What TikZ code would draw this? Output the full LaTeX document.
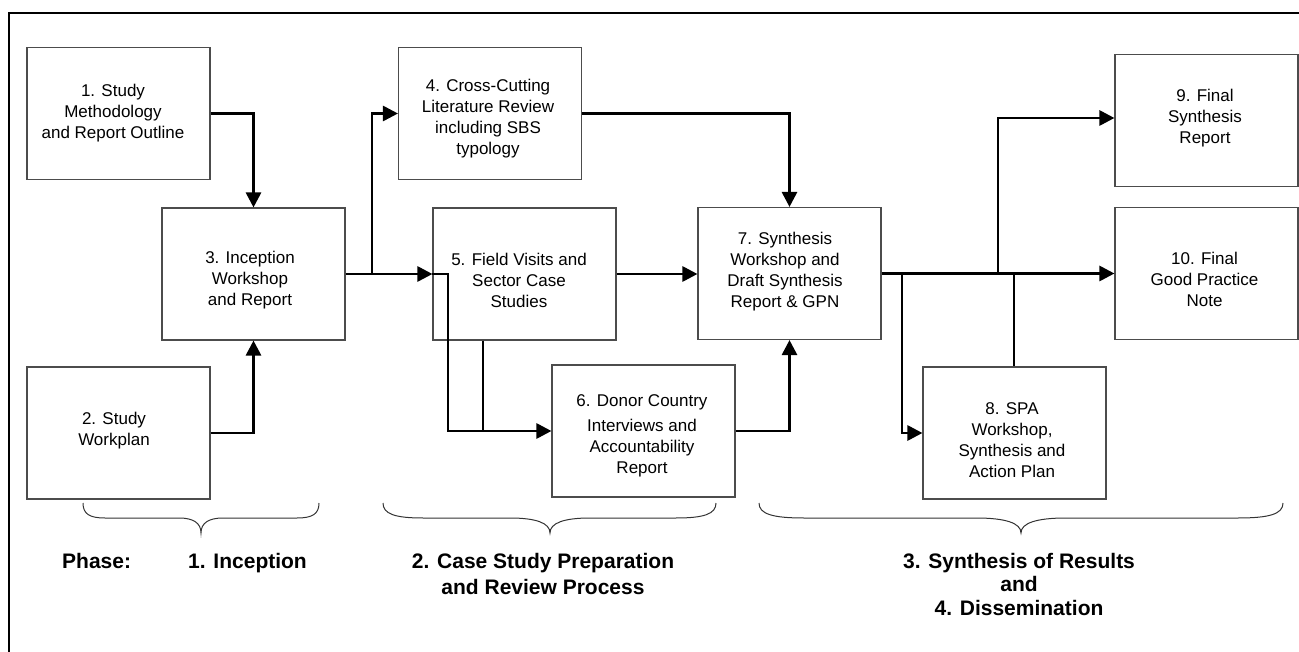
\documentclass[tikz,border=0pt]{standalone}
\usepackage{fontspec}
\setmainfont{Liberation Sans}
\usetikzlibrary{arrows.meta}
\newcommand\phbrace[4]{%
  \draw[brace] (#1,503) .. controls (#1,514) and ({#1+0.3*#4},518) .. ({#1+#4},518)
    -- ({#2-#4},518) .. controls ({#2-0.35*#4},518) and (#2,523) .. (#2,533)
    .. controls (#2,523) and ({#2+0.35*#4},518) .. ({#2+#4},518)
    -- ({#3-#4},518) .. controls ({#3-0.3*#4},518) and (#3,514) .. (#3,503);}
\begin{document}
\begin{tikzpicture}[x=1pt,y=-1pt,
  box/.style={draw=black!70, line width=1.1pt, fill=white, minimum width=183pt, minimum height=132pt, inner sep=0pt},
  txt/.style={align=center, font=\fontsize{17}{21}\selectfont, inner sep=0pt},
  conn/.style={line width=2.8pt, line join=miter},
  thinconn/.style={line width=1.8pt},
  arr/.style={-{Triangle[length=15pt,width=15pt]}},
  phase/.style={font=\fontsize{21}{25}\selectfont\bfseries, align=center, inner sep=0pt},
  brace/.style={draw=black!80, line width=1pt}]
\useasboundingbox (0,0) rectangle (1299,652);
% frame
\draw[line width=2.5pt, line join=miter] (9,652) -- (9,13) -- (1299,13);
% boxes
\node[box] (b1) at (118.5,113.5) {};
\node[box] (b2) at (118.5,433) {};
\node[box] (b3) at (253.5,274) {};
\node[box] (b4) at (490,113.5) {};
\node[box] (b5) at (524.5,274) {};
\node[box] (b6) at (643.5,431) {};
\node[box] (b7) at (789.5,273.5) {};
\node[box] (b8) at (1014.5,433) {};
\node[box] (b9) at (1206.5,120.5) {};
\node[box] (b10) at (1206.5,273.5) {};
% texts
\node[txt] (t1) at (113,113) {1. Study\\Methodology\\and Report Outline};
\node[txt] (t2) at (114,430.5) {2. Study\\Workplan};
\node[txt] (t3) at (250,280.5) {3. Inception\\Workshop\\and Report};
\node[txt] (t4) at (488,119) {4. Cross-Cutting\\Literature Review\\including SBS\\typology};
\node[txt] (t5) at (519,280.5) {5. Field Visits and\\Sector Case\\Studies};
\node[txt] (t6) at (642,435.5) {6. Donor Country\\[4pt]Interviews and\\Accountability\\Report};
\node[txt] (t7) at (785,271.5) {7. Synthesis\\Workshop and\\Draft Synthesis\\Report \& GPN};
\node[txt] (t8) at (1012,440) {8. SPA\\Workshop,\\Synthesis and\\Action Plan};
\node[txt] (t9) at (1205,118) {9. Final\\Synthesis\\Report};
\node[txt] (t10) at (1204.5,279.5) {10. Final\\Good Practice\\Note};
% junctions
\coordinate (j1) at (372,274);
\coordinate (j2) at (448,274);
\coordinate (j3) at (483,431);
\coordinate (j4) at (998,273.5);
\coordinate (j5) at (902,273.5);
\coordinate (j6) at (1014,273.5);
% connectors
\draw[conn,arr] (b1.east) -| (b3.north);
\draw[conn,arr] (b2.east) -| (b3.south);
\draw[conn,arr] (b3.east) -- (b5.west);
\draw[conn,arr] (j1) |- (b4.west);
\draw[conn,arr] (b5.west) -- (j2) |- (b6.west);
\draw[thinconn] (j3 |- b5.south) -- (j3);
\draw[conn,arr] (b4.east) -| (b7.north);
\draw[conn,arr] (b5.east) -- (b5.east -| b7.west);
\draw[conn,arr] (b6.east) -| (b7.south);
\draw[conn,arr] (b7.east) -- (b10.west);
\draw[conn,arr] (j4) |- ([yshift=2.5pt]b9.west);
\draw[conn,arr] (j5) |- (b8.west);
\draw[thinconn] (j6) -- (j6 |- b8.north);
% braces
\phbrace{83}{201}{319}{22}
\phbrace{383}{550}{716}{40}
\phbrace{759}{1021}{1283}{45}
% phase labels
\node[phase, anchor=base west] (ph) at (62,568) {Phase:};
\node[phase, anchor=base west] (p1) at (188,568) {1. Inception};
\node[phase, font=\fontsize{21}{26}\selectfont\bfseries, anchor=base] (p2) at (543,594) {2. Case Study Preparation\\and Review Process};
\node[phase, font=\fontsize{21}{23.5}\selectfont\bfseries, anchor=base] (p3) at (1019,615) {3. Synthesis of Results\\and\\4. Dissemination};
\end{tikzpicture}
\end{document}
